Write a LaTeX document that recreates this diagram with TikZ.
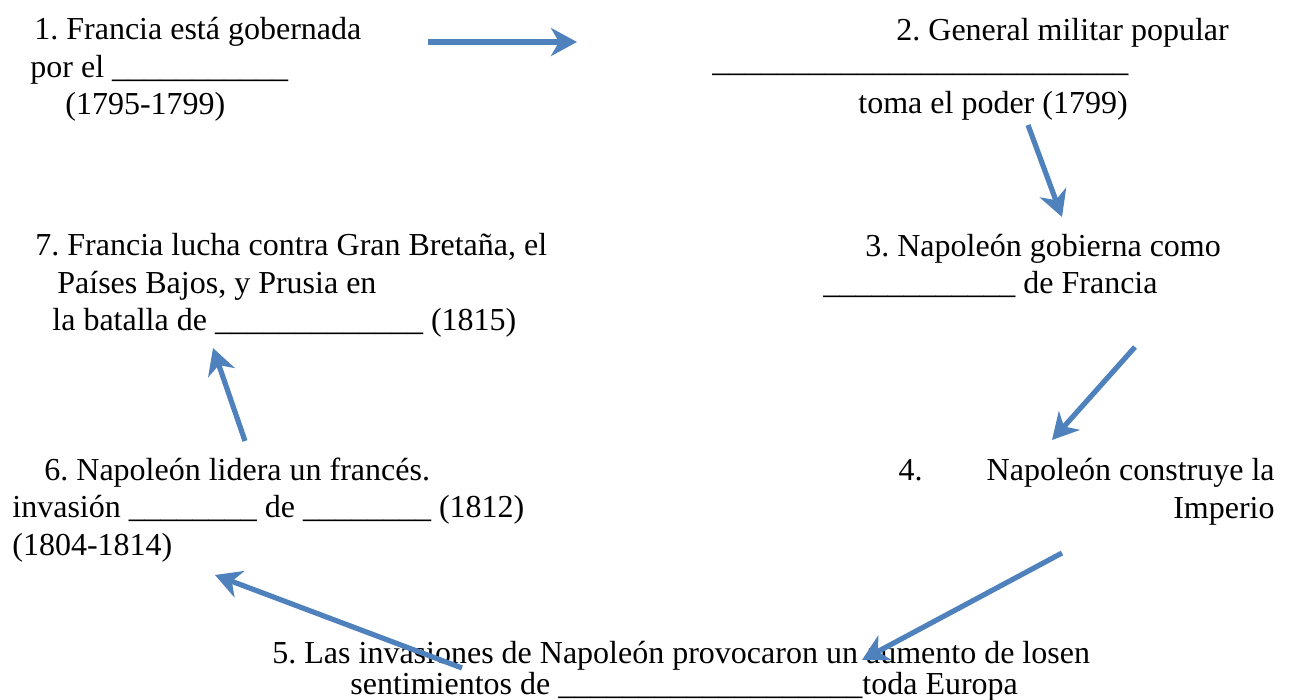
\documentclass[tikz,border=0pt]{standalone}
\usepackage{fontspec}
\setmainfont{Liberation Serif}
\usetikzlibrary{arrows.meta}
\definecolor{flowblue}{HTML}{4F81BD}
\newcommand{\blank}[1]{\foreach \k in {1,...,#1}{\_}}
\frenchspacing
\begin{document}
\begin{tikzpicture}[x=0.5pt, y=-0.5pt,
    stage/.style={inner sep=0pt, align=left, anchor=base west, font=\fontsize{16}{18.75}\selectfont},
    link/.style={line width=2.6pt, flowblue, -{Stealth[length=13pt, width=14pt, inset=4pt]}}]
    \useasboundingbox (0,0) rectangle (1291,700);

    % Draw stages (placed at the baseline of their last line)
    \node[stage] (1) at (30,115) {\hspace*{2pt}1. Francia está gobernada\\por el \blank{11}\\\hspace*{17.5pt}(1795-1799)};
    \node[stage] (2) at (712,114) {\hspace*{92pt}2. General militar popular\\[-3.25pt]\blank{26}\\[2.25pt]\hspace*{73pt}toma el poder (1799)};
    \node[stage] (3) at (823,294) {\hspace*{21pt}3. Napoleón gobierna como\\\blank{12} de Francia};
    \node[stage, align=right, anchor=base east] (4) at (1275,518) {4.\hspace*{32pt}Napoleón construye la\\Imperio};
    \node[stage] (5) at (272,694) {5. Las invasiones de Napoleón provocaron un aumento de losen\\[-3.25pt]\hspace*{39pt}sentimientos de \blank{19}toda Europa};
    \node[stage] (6) at (12,555) {\hspace*{16pt}6. Napoleón lidera un francés.\\invasión \blank{8} de \blank{8} (1812)\\(1804-1814)};
    \node[stage] (7) at (35,331) {7. Francia lucha contra Gran Bretaña, el\\\hspace*{11pt}Países Bajos, y Prusia en\\\hspace*{8.5pt}la batalla de \blank{13} (1815)};

    % Arrow ends
    \coordinate (from1) at (428,42);
    \coordinate (to2) at (577,42);
    \coordinate (from2) at (1028,125);
    \coordinate (to3) at (1062,217);
    \coordinate (from3) at (1135,347);
    \coordinate (to4) at (1052,440);
    \coordinate (from4) at (1062,553);
    \coordinate (to5) at (862,660);
    \coordinate (from5) at (462,668);
    \coordinate (to6) at (215,575);
    \coordinate (from6) at (245,441);
    \coordinate (to7) at (213,348);

    % Draw arrows
    \draw[link] (from1) -- (to2);
    \draw[link] (from2) -- (to3);
    \draw[link] (from3) -- (to4);
    \draw[link] (from4) -- (to5);
    \draw[link] (from5) -- (to6);
    \draw[link] (from6) -- (to7);
\end{tikzpicture}
\end{document}
